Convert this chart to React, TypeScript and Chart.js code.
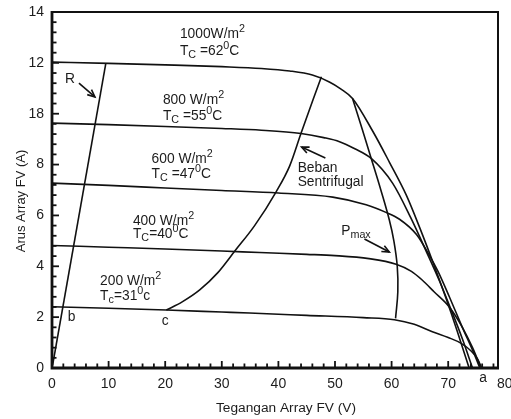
import React, { useEffect, useRef } from "react";
import { Chart, registerables } from "chart.js";

Chart.register(...registerables);

// ---------- data ----------
const X_TICKS = [0, 10, 20, 30, 40, 50, 60, 70, 80];
const Y_TICKS = [0, 2, 4, 6, 8, 10, 12, 14];
const Y_TICK_LABELS = ["0", "2", "4", "6", "8", "18", "12", "14"];

const G1000_V = [0, 10, 20, 30, 37, 42, 46, 49, 51, 53.1, 56.7, 59.6, 62.6, 65, 67.4, 69.6, 71.6, 73.7];
const G1000_I = [12.03, 11.98, 11.92, 11.85, 11.78, 11.68, 11.52, 11.25, 10.98, 10.6, 9.3, 8.1, 6.8, 5.5, 4.1, 2.75, 1.45, 0];

const G800_V = [0, 10, 20, 30, 37, 44, 48, 50.8, 53.5, 56.4, 60.2, 63.4, 66.3, 68.5, 70.5, 72.5, 74.3];
const G800_I = [9.63, 9.57, 9.5, 9.42, 9.35, 9.22, 9.06, 8.9, 8.62, 8.24, 7.26, 5.9, 4.5, 3.4, 2.3, 1.15, 0];

const G600_V = [0, 10, 20, 30, 40, 49.6, 55.5, 59, 61.4, 64.4, 66.5, 68.2, 70.2, 72.5, 74.5, 75.6];
const G600_I = [7.27, 7.18, 7.08, 6.98, 6.88, 6.72, 6.42, 6.12, 5.85, 5.25, 4.5, 3.8, 2.8, 1.6, 0.6, 0];

const G400_V = [0, 10, 20, 30, 36.7, 45, 50, 56, 60.8, 63.5, 65.4, 67.5, 70.2, 72.5, 74.3, 75.8];
const G400_I = [4.82, 4.75, 4.68, 4.6, 4.54, 4.47, 4.42, 4.3, 4.08, 3.8, 3.46, 3.0, 2.4, 1.6, 0.8, 0];

const G200_V = [0, 10, 20.2, 30, 34.9, 45, 55, 60.5, 64, 67.2, 70, 72.3, 74, 75.2, 75.9];
const G200_I = [2.41, 2.35, 2.28, 2.2, 2.16, 2.07, 1.98, 1.9, 1.72, 1.43, 1.2, 0.97, 0.68, 0.35, 0];

const PMAX_V = [53.1, 54.8, 56.4, 58.1, 59.6, 60.4, 61.0, 61.1, 60.7];
const PMAX_I = [10.6, 9.4, 8.24, 7.0, 5.82, 5.0, 4.0, 3.0, 1.95];

const SENTRIFUGAL_V = [20.2, 23, 26.1, 29.3, 32.3, 35.8, 39.6, 42, 44, 46.1, 47.6];
const SENTRIFUGAL_I = [2.28, 2.6, 3.07, 3.75, 4.6, 5.6, 6.93, 7.95, 9.23, 10.54, 11.45];

const R_V = [0.1, 9.5];
const R_I = [0.1, 11.97];

const X_MIN = 0;
const X_MAX = 78.8;
const Y_MIN = 0;
const Y_MAX = 14;
const X_MINOR_STEP = 2;
const Y_MINOR_STEP = 0.4;

const X_TITLE = "Tegangan Array FV (V)";
const Y_TITLE = "Arus Array FV (A)";

type Seg = { t: string; k?: "sup" | "sub" };
type Note = { v: number; i: number; segs: Seg[] };

const NOTES: Note[] = [
  { v: 22.6, i: 12.98, segs: [{ t: "1000W/m" }, { t: "2", k: "sup" }] },
  { v: 22.6, i: 12.31, segs: [{ t: "T" }, { t: "C", k: "sub" }, { t: " =62" }, { t: "0", k: "sup" }, { t: "C" }] },
  { v: 19.6, i: 10.38, segs: [{ t: "800 W/m" }, { t: "2", k: "sup" }] },
  { v: 19.6, i: 9.75, segs: [{ t: "T" }, { t: "C", k: "sub" }, { t: " =55" }, { t: "0", k: "sup" }, { t: "C" }] },
  { v: 17.6, i: 8.06, segs: [{ t: "600 W/m" }, { t: "2", k: "sup" }] },
  { v: 17.6, i: 7.47, segs: [{ t: "T" }, { t: "C", k: "sub" }, { t: " =47" }, { t: "0", k: "sup" }, { t: "C" }] },
  { v: 14.3, i: 5.62, segs: [{ t: "400 W/m" }, { t: "2", k: "sup" }] },
  { v: 14.3, i: 5.11, segs: [{ t: "T" }, { t: "C", k: "sub" }, { t: "=40" }, { t: "0", k: "sup" }, { t: "C" }] },
  { v: 8.5, i: 3.26, segs: [{ t: "200 W/m" }, { t: "2", k: "sup" }] },
  { v: 8.5, i: 2.67, segs: [{ t: "T" }, { t: "c", k: "sub" }, { t: "=31" }, { t: "0", k: "sup" }, { t: "c" }] },
  { v: 2.3, i: 11.2, segs: [{ t: "R" }] },
  { v: 2.8, i: 1.85, segs: [{ t: "b" }] },
  { v: 19.4, i: 1.69, segs: [{ t: "c" }] },
  { v: 75.5, i: -0.55, segs: [{ t: "a" }] },
  { v: 43.4, i: 7.71, segs: [{ t: "Beban" }] },
  { v: 43.4, i: 7.16, segs: [{ t: "Sentrifugal" }] },
  { v: 51.1, i: 5.23, segs: [{ t: "P" }, { t: "max", k: "sub" }] },
];

const ARROWS = [
  { from: [4.76, 11.2], to: [7.58, 10.66] },
  { from: [48.3, 8.26], to: [44.1, 8.69] },
  { from: [55.2, 5.07], to: [59.6, 4.56] },
];

const FONT = '"Liberation Sans", Arial, Helvetica, sans-serif';
const INK = "#111111";
const TEXT = "#1c1c1c";

function pts(vs: number[], is: number[]) {
  return vs.map((v, k) => ({ x: v, y: is[k] }));
}

function line(vs: number[], is: number[], extra: any = {}) {
  return {
    data: pts(vs, is),
    showLine: true,
    borderColor: INK,
    borderWidth: 1.6,
    pointRadius: 0,
    cubicInterpolationMode: "monotone",
    fill: false,
    ...extra,
  };
}

function drawRich(ctx: CanvasRenderingContext2D, segs: Seg[], x: number, y: number, size: number) {
  let cx = x;
  for (const s of segs) {
    const fs = s.k ? size * 0.78 : size;
    const dy = s.k === "sup" ? -size * 0.42 : s.k === "sub" ? size * 0.2 : 0;
    ctx.font = `${fs}px ${FONT}`;
    ctx.fillText(s.t, cx, y + dy);
    cx += ctx.measureText(s.t).width;
  }
}

const overlay = {
  id: "overlay",
  afterDraw(chart: any) {
    const { ctx, chartArea: ca, scales } = chart;
    const xs = scales.x;
    const ys = scales.y;
    ctx.save();
    ctx.strokeStyle = INK;
    ctx.lineCap = "butt";

    ctx.lineWidth = 2;
    ctx.beginPath();
    ctx.moveTo(ca.left, ca.top);
    ctx.lineTo(ca.right, ca.top);
    ctx.lineTo(ca.right, ca.bottom);
    ctx.stroke();
    ctx.lineWidth = 2.8;
    ctx.beginPath();
    ctx.moveTo(ca.left, ca.top - 1);
    ctx.lineTo(ca.left, ca.bottom);
    ctx.lineTo(ca.right + 1, ca.bottom);
    ctx.stroke();

    ctx.lineWidth = 1.8;
    const nx = Math.floor((X_MAX - X_MIN) / X_MINOR_STEP + 1e-6);
    for (let k = 1; k <= nx; k++) {
      const val = X_MIN + k * X_MINOR_STEP;
      const major = Math.abs(val / 10 - Math.round(val / 10)) < 1e-6;
      const px = xs.getPixelForValue(val);
      ctx.beginPath();
      ctx.moveTo(px, ca.bottom);
      ctx.lineTo(px, ca.bottom - (major ? 7 : 4.5));
      ctx.stroke();
    }
    const ny = Math.round((Y_MAX - Y_MIN) / Y_MINOR_STEP);
    for (let k = 1; k < ny; k++) {
      const val = Y_MIN + k * Y_MINOR_STEP;
      const major = k % 5 === 0;
      const py = ys.getPixelForValue(val);
      ctx.beginPath();
      ctx.moveTo(ca.left, py);
      ctx.lineTo(ca.left + (major ? 7 : 4.5), py);
      ctx.stroke();
    }

    ctx.fillStyle = TEXT;
    ctx.textBaseline = "alphabetic";
    ctx.textAlign = "left";
    for (const n of NOTES) {
      drawRich(ctx, n.segs, xs.getPixelForValue(n.v), ys.getPixelForValue(n.i), 13.8);
    }

    ctx.strokeStyle = INK;
    ctx.lineWidth = 1.6;
    for (const a of ARROWS) {
      const x1 = xs.getPixelForValue(a.from[0]);
      const y1 = ys.getPixelForValue(a.from[1]);
      const x2 = xs.getPixelForValue(a.to[0]);
      const y2 = ys.getPixelForValue(a.to[1]);
      const ang = Math.atan2(y2 - y1, x2 - x1);
      ctx.beginPath();
      ctx.moveTo(x1, y1);
      ctx.lineTo(x2, y2);
      ctx.stroke();
      const h = 8;
      ctx.beginPath();
      ctx.moveTo(x2 - h * Math.cos(ang - 0.42), y2 - h * Math.sin(ang - 0.42));
      ctx.lineTo(x2, y2);
      ctx.lineTo(x2 - h * Math.cos(ang + 0.42), y2 - h * Math.sin(ang + 0.42));
      ctx.stroke();
    }

    ctx.fillStyle = TEXT;
    ctx.textAlign = "center";
    ctx.textBaseline = "middle";
    ctx.font = `13.7px ${FONT}`;
    ctx.fillText(X_TITLE, (ca.left + ca.right) / 2 + 11, ca.bottom + 40);
    ctx.save();
    ctx.translate(21, (ca.top + ca.bottom) / 2 + 11);
    ctx.rotate(-Math.PI / 2);
    ctx.font = `13px ${FONT}`;
    ctx.fillText(Y_TITLE, 0, 0);
    ctx.restore();

    ctx.restore();
  },
};

export default function App() {
  const ref = useRef<HTMLCanvasElement | null>(null);

  useEffect(() => {
    if (!ref.current) return;
    const chart = new Chart(ref.current, {
      type: "scatter",
      data: {
        datasets: [
          line(G1000_V, G1000_I),
          line(G800_V, G800_I),
          line(G600_V, G600_I),
          line(G400_V, G400_I),
          line(G200_V, G200_I),
          line(PMAX_V, PMAX_I, { cubicInterpolationMode: "default", tension: 0.4 }),
          line(SENTRIFUGAL_V, SENTRIFUGAL_I),
          line(R_V, R_I, { cubicInterpolationMode: "default", tension: 0 }),
        ] as any,
      },
      options: {
        responsive: false,
        animation: false,
        devicePixelRatio: 1,
        layout: { padding: { top: 12, right: 13, left: 0, bottom: 0 } },
        plugins: { legend: { display: false }, tooltip: { enabled: false } },
        scales: {
          x: {
            type: "linear",
            min: X_MIN,
            max: X_MAX,
            grid: { display: false, drawTicks: false },
            border: { display: false },
            afterFit: (s: any) => {
              s.height = 51;
              s.paddingLeft = 0;
              s.paddingRight = 0;
            },
            afterBuildTicks: (s: any) => {
              s.ticks = X_TICKS.map((v) => ({ value: v }));
            },
            ticks: {
              autoSkip: false,
              maxRotation: 0,
              padding: 8,
              color: TEXT,
              font: { family: FONT, size: 14 },
            },
          },
          y: {
            type: "linear",
            min: Y_MIN,
            max: Y_MAX,
            grid: { display: false, drawTicks: false },
            border: { display: false },
            afterFit: (s: any) => {
              s.width = 52;
              s.paddingTop = 0;
              s.paddingBottom = 0;
            },
            afterBuildTicks: (s: any) => {
              s.ticks = Y_TICKS.map((v) => ({ value: v }));
            },
            ticks: {
              autoSkip: false,
              padding: 8,
              color: TEXT,
              font: { family: FONT, size: 14 },
              callback: (v: any) => {
                const idx = Y_TICKS.indexOf(Number(v));
                return idx >= 0 ? Y_TICK_LABELS[idx] : "";
              },
            },
          },
        },
      } as any,
      plugins: [overlay],
    });
    return () => chart.destroy();
  }, []);

  return (
    <div style={{ position: "absolute", left: 0, top: 0, width: 511, height: 419, background: "#fff" }}>
      <canvas ref={ref} width={511} height={419} style={{ display: "block" }} />
    </div>
  );
}
